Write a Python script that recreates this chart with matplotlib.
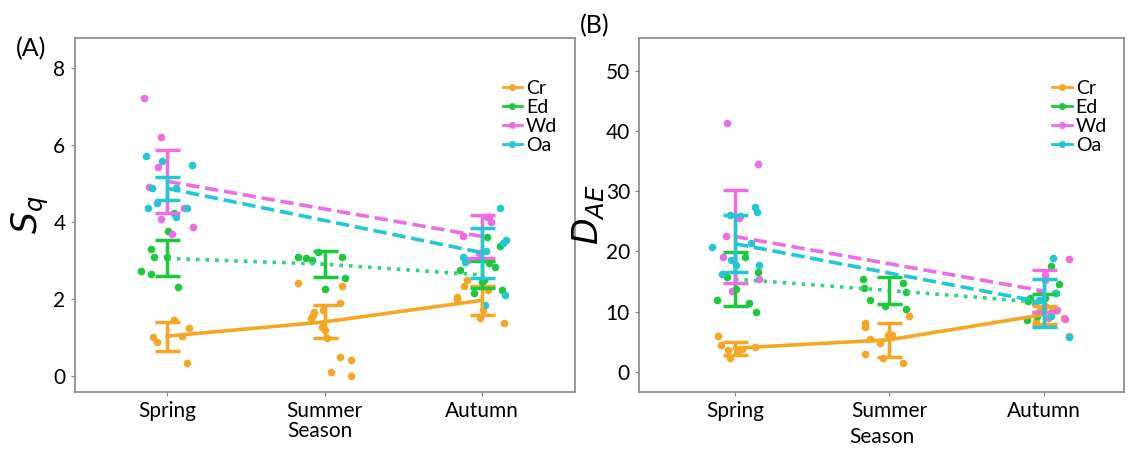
import numpy as np
import matplotlib
matplotlib.use('Agg')
import matplotlib.pyplot as plt
from matplotlib.lines import Line2D

plt.rcParams['font.family'] = ['Lato', 'DejaVu Sans']

seasons = ['Spring', 'Summer', 'Autumn']
groups = ['Cr', 'Ed', 'Wd', 'Oa']

# Panel A: Sq, points per season (Spring, Summer, Autumn)
sq_cr = [[1.45, 1.25, 1.04, 1.0, 0.88, 0.34],
         [2.42, 2.34, 1.9, 1.71, 1.66, 1.58, 1.51, 1.27, 1.2, 0.99, 0.42, 0.49, 0.1, 0.0],
         [2.5, 2.34, 2.23, 2.05, 2.0, 1.7, 1.5, 1.38]]
sq_ed = [[4.23, 3.77, 3.09, 3.09, 2.73, 2.65, 2.31, 3.3],
         [3.22, 3.09, 3.09, 3.06, 3.0, 2.55, 2.26],
         [3.38, 2.93, 2.83, 2.75, 2.49, 2.44, 2.23, 2.15, 3.6]]
sq_wd = [[7.22, 6.2, 5.43, 4.9, 4.36, 4.08, 3.87, 3.69],
         [],
         [4.13, 4.13, 4.0, 3.64, 3.2, 3.01]]
sq_oa = [[5.58, 5.71, 5.48, 4.88, 4.88, 4.49, 4.36, 4.13, 4.36],
         [],
         [4.36, 3.53, 3.45, 3.25, 3.09, 2.96, 2.1, 1.84]]

sq_mean_cr = [1.03, 1.4, 1.96]
sq_err_cr = [0.38, 0.43, 0.38]
sq_mean_ed = [3.05, 2.9, 2.62]
sq_err_ed = [0.47, 0.33, 0.35]
sq_mean_wd = [5.05, np.nan, 3.62]
sq_err_wd = [0.82, np.nan, 0.55]
sq_mean_oa = [4.87, np.nan, 3.2]
sq_err_oa = [0.3, np.nan, 0.65]

# Panel B: DAE
dae_cr = [[5.9, 4.1, 3.8, 3.6, 3.6, 2.3, 4.5],
          [8.1, 9.2, 6.1, 6.1, 4.8, 1.4, 3.0, 2.2, 7.5, 5.5],
          [6.0, 10.4, 10.3, 11.0, 9.0, 8.5]]
dae_ed = [[25.9, 19.1, 15.8, 13.8, 11.4, 9.9, 11.9, 16.5],
          [15.5, 14.8, 13.2, 12.0, 11.0, 10.5, 14.0],
          [17.6, 14.6, 12.3, 13.1, 12.3, 11.8, 9.3, 8.6]]
dae_wd = [[41.4, 34.5, 25.6, 22.6, 19.1, 15.4, 13.5],
          [],
          [18.7, 16.1, 15.3, 8.8, 10.3, 8.9, 13.2]]
dae_oa = [[27.4, 26.1, 26.6, 20.8, 18.6, 17.8, 17.8, 16.3, 21.4],
          [],
          [18.9, 13.1, 9.3, 5.8, 11.5, 12.0]]

dae_mean_cr = [3.9, 5.3, 9.5]
dae_err_cr = [1.1, 2.8, 1.5]
dae_mean_ed = [15.4, 13.5, 11.5]
dae_err_ed = [4.5, 2.3, 1.5]
dae_mean_wd = [22.5, np.nan, 13.4]
dae_err_wd = [7.8, np.nan, 3.5]
dae_mean_oa = [21.3, np.nan, 11.5]
dae_err_oa = [4.8, np.nan, 4.0]

colores = {'Cr': '#F5A623', 'Ed': '#1DC93C', 'Wd': '#EE6BE6', 'Oa': '#1FC8D4'}
color_linea = {'Cr': '#F5A623', 'Ed': '#2ED47A', 'Wd': '#EE6BE6', 'Oa': '#1FC8D4'}
estilos = {'Cr': '-', 'Ed': ':', 'Wd': '--', 'Oa': '--'}

rng = np.random.default_rng(7)


def dibujar_panel(ax, puntos, medias, errores):
    x = np.arange(1, 4)
    for g in groups:
        for i, vals in enumerate(puntos[g]):
            if len(vals) == 0:
                continue
            jit = rng.uniform(-0.17, 0.17, len(vals))
            ax.scatter(x[i] + jit, vals, s=30, color=colores[g], zorder=3, linewidths=0)
    for g in groups:
        m = np.array(medias[g], dtype=float)
        e = np.array(errores[g], dtype=float)
        ok = ~np.isnan(m)
        ax.plot(x[ok], m[ok], estilos[g], color=color_linea[g], lw=2.6, zorder=4)
        ax.errorbar(x[ok], m[ok], yerr=e[ok], fmt='none', ecolor=colores[g],
                    elinewidth=2.5, capsize=9, capthick=2.5, zorder=4)
    ax.set_xticks(x)
    ax.set_xticklabels(seasons, fontsize=15)
    ax.tick_params(axis='y', labelsize=15)
    ax.tick_params(length=3, color='#888888')
    for sp in ax.spines.values():
        sp.set_color('#888888')
        sp.set_linewidth(1.2)
    handles = [Line2D([0], [0], color=colores[g], marker='o', markersize=4, lw=2)
               for g in groups]
    ax.legend(handles, groups, loc='upper right', bbox_to_anchor=(1.0, 0.93),
              frameon=False, fontsize=14, handlelength=1.0, handletextpad=0.2,
              labelspacing=0.1)


fig = plt.figure(figsize=(11.29, 4.5), dpi=100)
ax1 = fig.add_axes([0.066, 0.129, 0.443, 0.787])
ax2 = fig.add_axes([0.566, 0.129, 0.430, 0.787])

dibujar_panel(ax1,
              {'Cr': sq_cr, 'Ed': sq_ed, 'Wd': sq_wd, 'Oa': sq_oa},
              {'Cr': sq_mean_cr, 'Ed': sq_mean_ed, 'Wd': sq_mean_wd, 'Oa': sq_mean_oa},
              {'Cr': sq_err_cr, 'Ed': sq_err_ed, 'Wd': sq_err_wd, 'Oa': sq_err_oa})
ax1.set_xlim(0.41, 3.59)
ax1.set_ylim(-0.42, 8.78)
ax1.set_yticks([0, 2, 4, 6, 8])
ax1.set_ylabel(r'$S_q$', fontsize=25, labelpad=2)
ax1.set_xlabel('Season', fontsize=15)
ax1.xaxis.set_label_coords(0.49, -0.082)

dibujar_panel(ax2,
              {'Cr': dae_cr, 'Ed': dae_ed, 'Wd': dae_wd, 'Oa': dae_oa},
              {'Cr': dae_mean_cr, 'Ed': dae_mean_ed, 'Wd': dae_mean_wd, 'Oa': dae_mean_oa},
              {'Cr': dae_err_cr, 'Ed': dae_err_ed, 'Wd': dae_err_wd, 'Oa': dae_err_oa})
ax2.set_xlim(0.38, 3.52)
ax2.set_ylim(-3.4, 55.6)
ax2.set_yticks([0, 10, 20, 30, 40, 50])
ax2.set_ylabel(r'$D_{AE}$', fontsize=25, labelpad=0)
ax2.set_xlabel('Season', fontsize=15, labelpad=4)

fig.text(0.014, 0.875, '(A)', fontsize=18)
fig.text(0.514, 0.925, '(B)', fontsize=18)

fig.savefig('out.png', dpi=100)
